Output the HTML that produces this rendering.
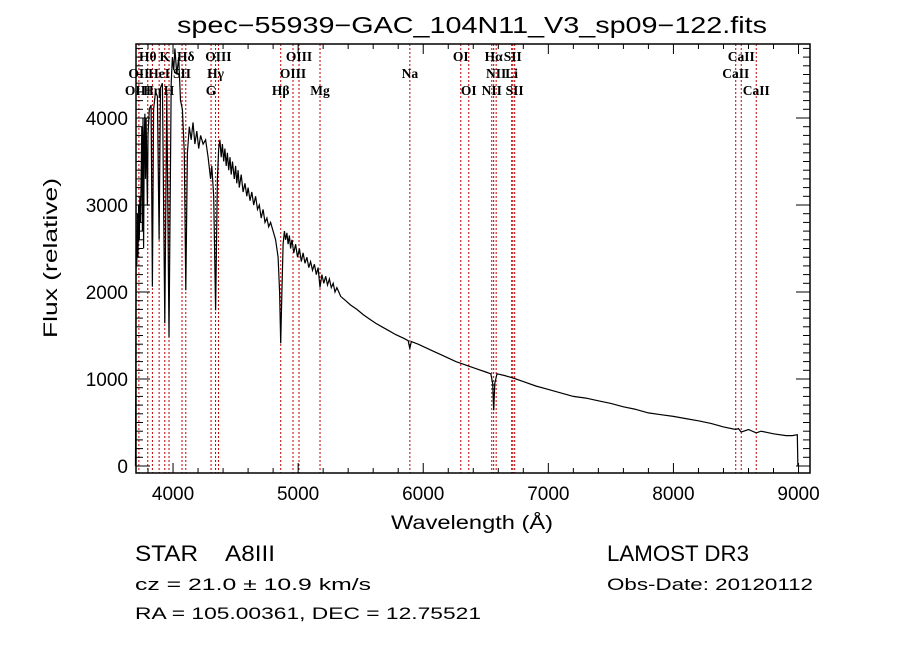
<!DOCTYPE html>
<html><head><meta charset="utf-8"><style>
html,body{margin:0;padding:0;background:#fff;}
svg{display:block;}
text{font-family:"Liberation Sans","DejaVu Sans",sans-serif;fill:#000;}
.ln{font-family:"Liberation Serif",serif;font-size:13.5px;font-weight:bold;}
</style></head><body>
<svg id="chart" width="900" height="649" viewBox="0 0 900 649">
<rect x="0" y="0" width="900" height="649" fill="#fff"/>
<text x="472" y="33" font-size="23" text-anchor="middle" textLength="590" lengthAdjust="spacingAndGlyphs">spec−55939−GAC_104N11_V3_sp09−122.fits</text>
<g id="lines"></g>
<g id="labels"></g>
<g id="spec"></g>
<g id="axes"></g>
<text x="472" y="529" font-size="19" text-anchor="middle" textLength="162" lengthAdjust="spacingAndGlyphs">Wavelength (Å)</text>
<text transform="translate(57,258) rotate(-90)" font-size="19" text-anchor="middle" textLength="160" lengthAdjust="spacingAndGlyphs">Flux (relative)</text>
<text x="135" y="561" font-size="22" textLength="140" lengthAdjust="spacingAndGlyphs">STAR&#160;&#160;&#160;&#160;A8III</text>
<text x="607" y="561" font-size="22" textLength="142" lengthAdjust="spacingAndGlyphs">LAMOST DR3</text>
<text x="135" y="590" font-size="17" textLength="236" lengthAdjust="spacingAndGlyphs">cz = 21.0 ± 10.9 km/s</text>
<text x="607" y="590" font-size="17" textLength="206" lengthAdjust="spacingAndGlyphs">Obs-Date: 20120112</text>
<text x="135" y="619" font-size="17" textLength="346" lengthAdjust="spacingAndGlyphs">RA = 105.00361, DEC =  12.75521</text>
</svg>
<script>
const wavelengths=[3700,3702,3705,3710,3715,3720,3725,3730,3735,3740,3745,3750,3755,3760,3765,3770,3775,3780,3785,3795,3800,3810,3825,3835,3845,3860,3875,3889,3900,3915,3934,3950,3968,3985,3995,4005,4015,4030,4045,4060,4075,4090,4102,4115,4130,4145,4160,4175,4190,4205,4220,4240,4260,4280,4300,4310,4325,4340,4355,4365,4375,4385,4395,4405,4415,4425,4435,4445,4455,4465,4475,4490,4500,4510,4520,4530,4545,4560,4575,4590,4600,4615,4630,4645,4660,4675,4690,4705,4720,4735,4750,4765,4780,4800,4820,4840,4852,4861,4870,4880,4890,4900,4910,4920,4930,4940,4950,4965,4980,4995,5010,5025,5040,5055,5070,5085,5100,5115,5130,5145,5160,5175,5190,5205,5220,5235,5250,5265,5280,5295,5310,5340,5380,5420,5470,5520,5570,5620,5670,5720,5780,5840,5880,5893,5905,5960,6020,6080,6140,6200,6260,6320,6380,6440,6500,6540,6555,6563,6572,6590,6650,6720,6800,6900,7000,7100,7200,7300,7400,7500,7600,7700,7800,7900,8000,8100,8200,8300,8400,8498,8520,8542,8600,8662,8700,8800,8900,8950,8990,8995];
const fluxes=[0,1100,2500,2300,2900,2400,3000,2600,3100,2800,3300,3900,2700,4000,2500,3800,4050,3300,4000,3000,3800,4100,4150,2060,4100,4300,4250,2600,4350,4400,1640,4300,1480,4400,4700,4550,4800,4500,4700,4200,4100,3600,2020,3600,3900,3750,3950,3700,3850,3650,3800,3700,3750,3550,3300,3450,3100,1790,3300,3650,3750,3550,3700,3500,3650,3450,3600,3400,3550,3350,3500,3300,3450,3250,3400,3200,3350,3150,3250,3100,3200,3050,3150,3000,3100,2950,3000,2850,2950,2800,2850,2750,2800,2700,2600,2400,2000,1410,2000,2550,2700,2600,2680,2550,2650,2500,2600,2450,2550,2400,2500,2350,2450,2330,2400,2280,2350,2250,2320,2200,2280,2050,2200,2100,2180,2080,2150,2050,2100,2000,2050,1950,1900,1850,1800,1740,1690,1640,1600,1560,1510,1470,1440,1350,1430,1400,1360,1320,1280,1240,1200,1170,1140,1110,1080,1060,950,640,950,1060,1040,1010,970,920,880,840,800,780,750,720,680,650,610,590,570,545,520,490,450,420,430,390,420,380,400,370,350,350,360,0];
const lineWaves=[3727,3798,3835,3889,3934,3968,4072,4102,4304,4340,4363,4861,4959,5007,5175,5893,6300,6364,6548,6563,6583,6707,6716,6731,8498,8542,8662];
const labelNames=["Hθ","K","Hδ","OIII","OIII","OI","Hα","SII","CaII","OII","HeI","SII","Hγ","OIII","Na","NII","Li","CaII","OIII","Hη","H","G","Hβ","Mg","OI","NII","SII","CaII"];
const labelWaves=[3798,3934,4102,4363,5007,6300,6563,6716,8542,3727,3889,4072,4340,4959,5893,6583,6707,8498,3720,3835,3968,4304,4861,5175,6364,6548,6731,8662];
const labelRows=[0,0,0,0,0,0,0,0,0,1,1,1,1,1,1,1,1,1,2,2,2,2,2,2,2,2,2,2];
const xTicks=[4000,5000,6000,7000,8000,9000];
const yTicks=[0,1000,2000,3000,4000];

const L=136,R=810,T=44,B=473;
function xs(w){return 135.5+(w-3700)*0.1251;}
function ys(f){return 466-f*0.087;}
const NS='http://www.w3.org/2000/svg';
function mk(tag,attrs,parent){const e=document.createElementNS(NS,tag);for(const k in attrs)e.setAttribute(k,attrs[k]);parent.appendChild(e);return e;}

const gl=document.getElementById('lines');
lineWaves.forEach(w=>{
  const l=mk('line',{x1:xs(w),x2:xs(w),y1:T,y2:B,stroke:'#c00000','stroke-width':1,'stroke-dasharray':'2,2'},gl);
  
  
});
const glab=document.getElementById('labels');
const rowY=[61,78,95];
labelNames.forEach((n,i)=>{
  const t=mk('text',{x:xs(labelWaves[i]),y:rowY[labelRows[i]],'text-anchor':'middle','class':'ln'},glab);
  t.textContent=n;
  
  
});

const gs=document.getElementById('spec');
let d='';
wavelengths.forEach((w,i)=>{d+=(i?'L':'M')+xs(w).toFixed(1)+','+ys(fluxes[i]).toFixed(1);});
const p=mk('path',{d:d,fill:'none',stroke:'#000','stroke-width':1.2},gs);



const ga=document.getElementById('axes');
mk('rect',{x:L,y:T,width:R-L,height:B-T,fill:'none',stroke:'#000','stroke-width':1.5},ga);
for(let w=3800;w<=9000;w+=200){
  const x=xs(w);const major=w%1000===0;const len=major?10:5;
  mk('line',{x1:x,x2:x,y1:B,y2:B-len,stroke:'#000'},ga);
  mk('line',{x1:x,x2:x,y1:T,y2:T+len,stroke:'#000'},ga);
}
xTicks.forEach(v=>{
  const t=mk('text',{x:xs(v),y:500,'font-size':19,'text-anchor':'middle'},ga);
  t.textContent=v;
  
  
});
for(let f=0;f<=4800;f+=100){
  const y=ys(f);const major=f%1000===0;const len=major?14:7;
  mk('line',{x1:L,x2:L+len,y1:y,y2:y,stroke:'#000'},ga);
  mk('line',{x1:R,x2:R-len,y1:y,y2:y,stroke:'#000'},ga);
}
yTicks.forEach(v=>{
  const t=mk('text',{x:128,y:ys(v)+7,'font-size':19,'text-anchor':'end'},ga);
  t.textContent=v;
  
  
});
</script>
</body></html>
